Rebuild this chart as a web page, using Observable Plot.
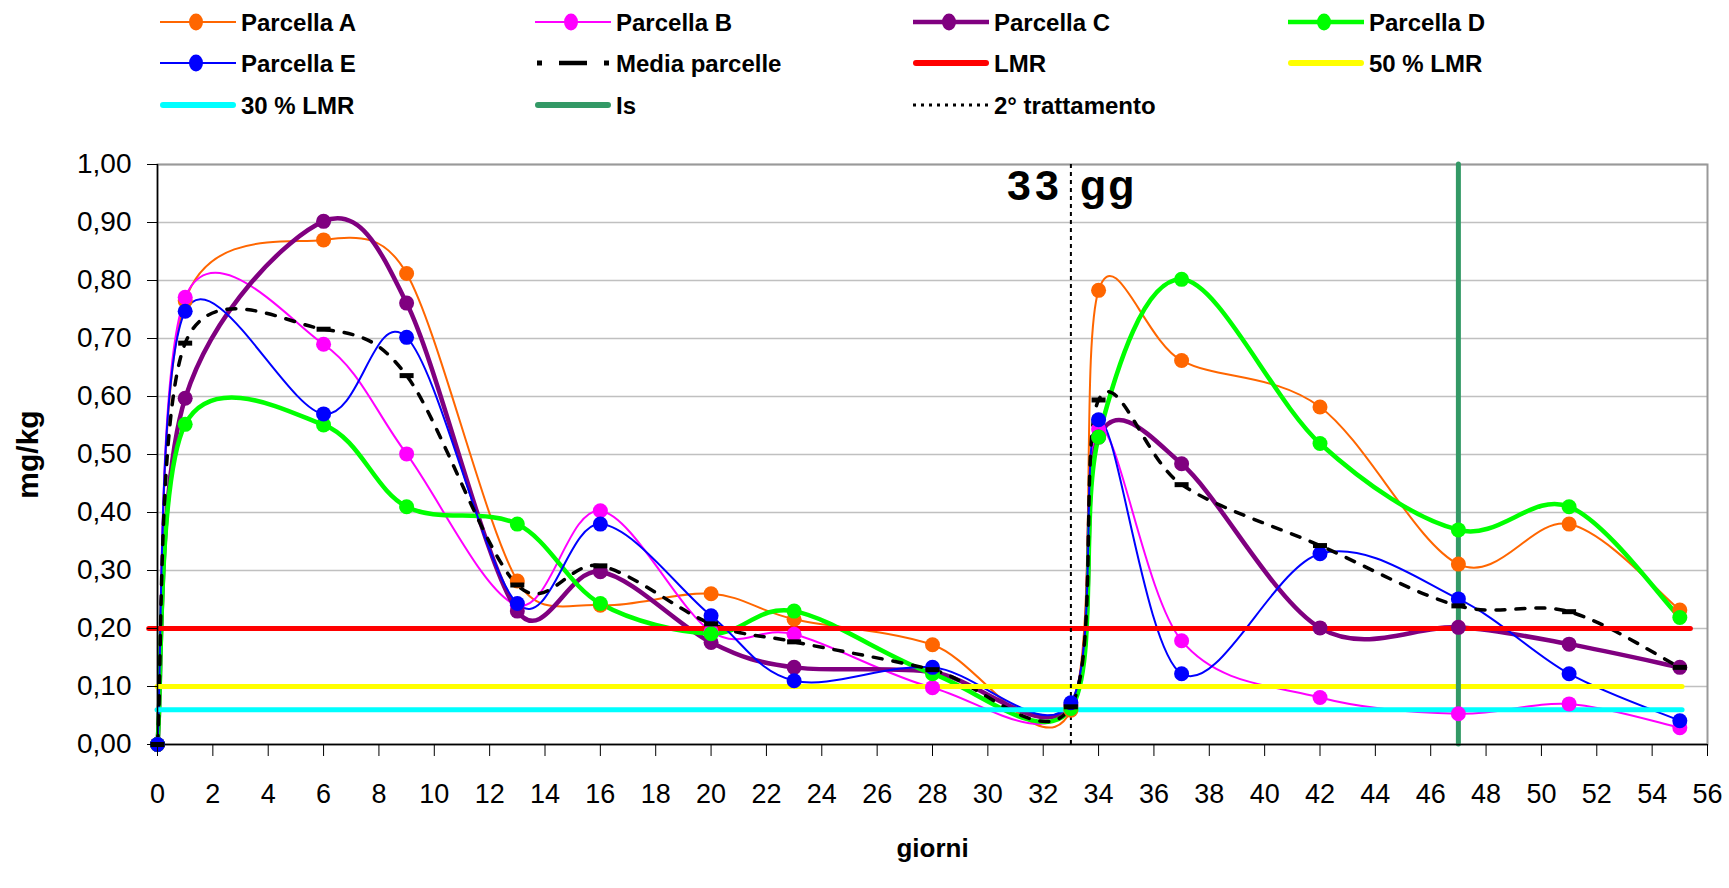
<!DOCTYPE html>
<html><head><meta charset="utf-8">
<script src="https://cdn.jsdelivr.net/npm/d3@7"></script>
<script src="https://cdn.jsdelivr.net/npm/@observablehq/plot@0.6"></script>
<style>
body{margin:0;background:#fff;font-family:"Liberation Sans",Arial,sans-serif;}
#wrap{position:relative;width:1729px;height:888px;overflow:hidden;}
#legend{position:absolute;left:0;top:0;}
#chart{position:absolute;left:0;top:125px;}
</style></head><body>
<div id="wrap"><svg id="legend" width="1729" height="125"></svg><div id="chart"></div></div>
<script>
// ---- data ----
const days = [0, 1, 6, 9, 13, 16, 20, 23, 28, 33, 34, 37, 42, 47, 51, 55];
const parcellaA = [0, 0.765, 0.870, 0.812, 0.282, 0.240, 0.260, 0.216, 0.172, 0.059, 0.783, 0.662, 0.582, 0.311, 0.380, 0.232];
const parcellaB = [0, 0.771, 0.690, 0.501, 0.240, 0.403, 0.195, 0.190, 0.098, 0.065, 0.544, 0.179, 0.081, 0.053, 0.070, 0.029];
const parcellaC = [0, 0.597, 0.902, 0.761, 0.230, 0.298, 0.176, 0.133, 0.125, 0.068, 0.530, 0.484, 0.201, 0.202, 0.173, 0.133];
const parcellaD = [0, 0.552, 0.551, 0.410, 0.380, 0.243, 0.191, 0.230, 0.122, 0.062, 0.530, 0.802, 0.519, 0.370, 0.410, 0.219];
const parcellaE = [0, 0.747, 0.570, 0.702, 0.243, 0.380, 0.222, 0.110, 0.133, 0.072, 0.560, 0.122, 0.329, 0.251, 0.122, 0.041];
const mediaParcelle = [0, 0.692, 0.716, 0.636, 0.275, 0.308, 0.208, 0.177, 0.129, 0.065, 0.594, 0.448, 0.343, 0.239, 0.229, 0.133];
const lmr = 0.20, lmr50 = 0.10, lmr30 = 0.06;
const lsDay = 47, trattamentoDay = 33;
const xTicks = d3.range(0, 57, 2);
const yTicks = d3.range(0, 11).map(i => i / 10);
const labels = {A:"Parcella A", B:"Parcella B", C:"Parcella C", D:"Parcella D", E:"Parcella E",
  media:"Media parcelle", lmr:"LMR", lmr50:"50 % LMR", lmr30:"30 % LMR", ls:"Is", tratt:"2° trattamento"};

const series = [
  {name: labels.A, values: parcellaA, color: "#FF6600", width: 2},
  {name: labels.B, values: parcellaB, color: "#FF00FF", width: 2},
  {name: labels.C, values: parcellaC, color: "#800080", width: 4.5},
  {name: labels.D, values: parcellaD, color: "#00FF00", width: 4.5},
  {name: labels.E, values: parcellaE, color: "#0000FF", width: 2}
];
const toRows = (vals) => days.map((d, i) => ({day: d, value: vals[i]}));
const mediaRows = toRows(mediaParcelle);

const fmt = d => d.toFixed(2).replace(".", ",");

// Spreadsheet-style smoothed line (Bezier, 1/6 tangents limited to half a segment)
function SmoothCurve(context) { this._context = context; }
SmoothCurve.prototype = {
  areaStart() {}, areaEnd() {},
  lineStart() { this._pts = []; },
  point(x, y) { this._pts.push([+x, +y]); },
  lineEnd() {
    const p = this._pts, n = p.length, c = this._context;
    if (!n) return;
    c.moveTo(p[0][0], p[0][1]);
    const dist = (a, b) => Math.hypot(a[0] - b[0], a[1] - b[1]);
    for (let i = 0; i < n - 1; i++) {
      const P0 = p[Math.max(i - 1, 0)], P1 = p[i], P2 = p[i + 1], P3 = p[Math.min(i + 2, n - 1)];
      const d02 = dist(P0, P2), d12 = dist(P1, P2), d13 = dist(P1, P3);
      let f1 = 1 / 6, f2 = 1 / 6;
      if (d02 / 6 >= d12 / 2 && d02 > 0) f1 = d12 / (2 * d02);
      if (d13 / 6 >= d12 / 2 && d13 > 0) f2 = d12 / (2 * d13);
      const c1 = [P1[0] + f1 * (P2[0] - P0[0]), P1[1] + f1 * (P2[1] - P0[1])];
      const c2 = [P2[0] - f2 * (P3[0] - P1[0]), P2[1] - f2 * (P3[1] - P1[1])];
      c.bezierCurveTo(c1[0], c1[1], c2[0], c2[1], P2[0], P2[1]);
    }
  }
};
const curve = (ctx) => new SmoothCurve(ctx);
const dashSymbol = {draw(ctx) { ctx.rect(-7, -2.5, 14, 5); }};

const marks = [
  Plot.gridY(yTicks, {stroke: "#c0c0c0", strokeOpacity: 1, strokeWidth: 1.5}),
  Plot.frame({stroke: "#999", strokeWidth: 2}),
  ...series.map(s => Plot.line(toRows(s.values), {x: "day", y: "value", stroke: s.color, strokeWidth: s.width, curve})),
  Plot.line(mediaRows, {x: "day", y: "value", stroke: "black", strokeWidth: 3.5, strokeDasharray: "9,11", curve}),
  Plot.ruleY([lmr], {x1: -0.3, x2: 55.4, stroke: "#FF0000", strokeWidth: 5, strokeLinecap: "round"}),
  Plot.ruleY([lmr50], {x1: 0, x2: 55.1, stroke: "#FFFF00", strokeWidth: 5, strokeLinecap: "round"}),
  Plot.ruleY([lmr30], {x1: 0, x2: 55.1, stroke: "#00FFFF", strokeWidth: 5, strokeLinecap: "round"}),
  Plot.ruleX([lsDay], {y1: 0, y2: 1, stroke: "#339966", strokeWidth: 5, strokeLinecap: "round"}),
  Plot.ruleX([trattamentoDay], {y1: 0, y2: 1, stroke: "black", strokeWidth: 2, strokeDasharray: "4,4"}),
  Plot.ruleX([0], {stroke: "black", strokeWidth: 1.5}),
  Plot.ruleY([0], {stroke: "black", strokeWidth: 1.5}),
  ...series.map(s => Plot.dot(toRows(s.values), {x: "day", y: "value", r: 7.5, fill: s.color, stroke: "none"})),
  Plot.dot(mediaRows, {x: "day", y: "value", symbol: dashSymbol, fill: "black", stroke: "none"}),
  Plot.axisY(yTicks, {tickFormat: fmt, tickSize: 10, tickPadding: 16, fontSize: 28, label: null, stroke: "black"}),
  Plot.axisX(xTicks, {tickSize: 12, tickPadding: 27, fontSize: 27, label: null, stroke: "black"}),
  Plot.text(["33"], {x: trattamentoDay, y: 0.938, dx: -8, textAnchor: "end", lineAnchor: "bottom", fontSize: 43, fontWeight: "bold", fill: "black"}),
  Plot.text(["gg"], {x: trattamentoDay, y: 0.938, dx: 9, textAnchor: "start", lineAnchor: "bottom", fontSize: 43, fontWeight: "bold", fill: "black"}),
  Plot.text(["mg/kg"], {frameAnchor: "left", dx: -129, rotate: -90, textAnchor: "middle", fontSize: 30, fontWeight: "bold", fill: "black"}),
  Plot.text(["giorni"], {frameAnchor: "bottom", dy: 112, lineAnchor: "bottom", fontSize: 26, fontWeight: "bold", fill: "black"})
];

const chart = Plot.plot({
  width: 1729, height: 763,
  marginTop: 39, marginLeft: 157, marginRight: 22, marginBottom: 144,
  x: {domain: [0, 56]},
  y: {domain: [0, 1]},
  style: {fontFamily: "'Liberation Sans', Arial, sans-serif", color: "black", background: "white"},
  marks
});
document.getElementById("chart").appendChild(chart);
d3.select(chart).selectAll("text").filter(function() { return this.textContent === "33"; }).attr("letter-spacing", 4);
d3.select(chart).selectAll("text").filter(function() { return this.textContent === "gg"; }).attr("letter-spacing", 2);

// ---- legend ----
const legendItems = [
  {label: labels.A, color: "#FF6600", w: 2, type: "marker", col: 0, row: 0},
  {label: labels.B, color: "#FF00FF", w: 2, type: "marker", col: 1, row: 0},
  {label: labels.C, color: "#800080", w: 4.5, type: "marker", col: 2, row: 0},
  {label: labels.D, color: "#00FF00", w: 4.5, type: "marker", col: 3, row: 0},
  {label: labels.E, color: "#0000FF", w: 2, type: "marker", col: 0, row: 1},
  {label: labels.media, color: "black", w: 3.5, type: "media", col: 1, row: 1},
  {label: labels.lmr, color: "#FF0000", w: 6, type: "thick", col: 2, row: 1},
  {label: labels.lmr50, color: "#FFFF00", w: 6, type: "thick", col: 3, row: 1},
  {label: labels.lmr30, color: "#00FFFF", w: 6, type: "thick", col: 0, row: 2},
  {label: labels.ls, color: "#339966", w: 6, type: "thick", col: 1, row: 2},
  {label: labels.tratt, color: "black", w: 3, type: "dotted", col: 2, row: 2}
];
const colX = [160, 535, 913, 1288];
const rowY = [22, 63, 105];
const lg = d3.select("#legend");
legendItems.forEach(it => {
  const x0 = colX[it.col], x1 = x0 + 76, y = rowY[it.row];
  const g = lg.append("g");
  if (it.type === "media") {
    g.append("rect").attr("x", x0 + 2).attr("y", y - 2.5).attr("width", 5).attr("height", 5).attr("fill", "black");
    g.append("rect").attr("x", x1 - 7).attr("y", y - 2.5).attr("width", 5).attr("height", 5).attr("fill", "black");
    g.append("line").attr("x1", x0 + 24).attr("x2", x1 - 24).attr("y1", y).attr("y2", y).attr("stroke", "black").attr("stroke-width", 4.5);
  } else {
    const ln = g.append("line").attr("x1", x0 + (it.type === "thick" ? 3 : 0)).attr("x2", x1 - (it.type === "thick" ? 3 : 0))
      .attr("y1", y).attr("y2", y).attr("stroke", it.color).attr("stroke-width", it.w);
    if (it.type === "thick") ln.attr("stroke-linecap", "round");
    if (it.type === "dotted") ln.attr("stroke-dasharray", "3,5");
    if (it.type === "marker") g.append("ellipse").attr("cx", x0 + 36).attr("cy", y).attr("rx", 7).attr("ry", 8.5).attr("fill", it.color);
  }
  g.append("text").attr("x", x1 + 5).attr("y", y + 8.5).attr("font-size", 24).attr("font-weight", "bold")
    .attr("font-family", "'Liberation Sans', Arial, sans-serif").attr("fill", "black").text(it.label);
});
</script>
</body></html>
